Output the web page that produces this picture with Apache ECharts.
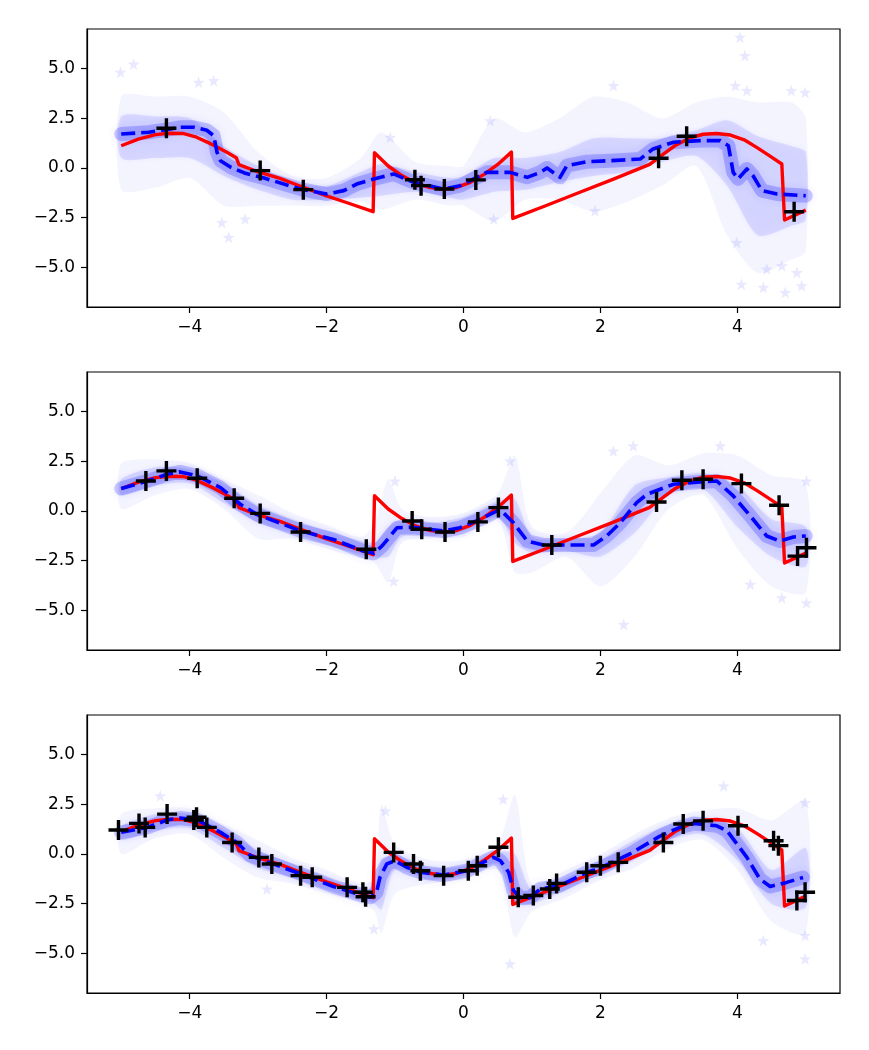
<!DOCTYPE html>
<html>
<head>
<meta charset="utf-8">
<script src="https://cdn.jsdelivr.net/npm/echarts@6/dist/echarts.min.js"></script>
<style>
  html, body { margin: 0; padding: 0; background: #fff; }
  #chart { width: 869px; height: 1050px; }
</style>
</head>
<body>
<div id="chart"></div>
<script>
"use strict";

// True function (red), shared by the three panels.
var trueX = [-5.0, -4.75, -4.5, -4.3, -4.1, -3.9, -3.65, -3.45, -3.32, -3.28, -3.0, -2.68, -2.38, -2.0, -1.7, -1.32,
  -1.30, -1.1, -0.9, -0.7, -0.5, -0.3, -0.1, 0.1, 0.3, 0.5, 0.7,
  0.72, 1.2, 1.7, 2.2, 2.72, 2.9, 3.1, 3.3, 3.5, 3.7, 3.9, 4.1, 4.3, 4.5, 4.65, 4.69, 5.0];
var trueY = [1.12, 1.45, 1.68, 1.75, 1.74, 1.55, 1.15, 0.78, 0.52, 0.17, -0.2, -0.52, -0.92, -1.4, -1.75, -2.2,
  0.77, 0.1, -0.38, -0.75, -0.97, -1.07, -0.98, -0.72, -0.32, 0.18, 0.8,
  -2.54, -1.9, -1.22, -0.55, 0.18, 0.65, 1.15, 1.5, 1.7, 1.74, 1.66, 1.42, 1.0, 0.55, 0.2, -2.62, -2.12];

// Predicted mean (blue dashed), one per panel.
var pred1X = [-5.0, -4.6, -4.3, -4.14, -3.94, -3.75, -3.65, -3.6, -3.55, -3.4, -3.2, -2.9, -2.38, -2.0, -1.75, -1.56,
  -1.31, -1.02, -0.73, -0.29, -0.05, 0.34, 0.68, 0.93, 1.12, 1.22, 1.41, 1.51, 1.8, 2.14, 2.58, 2.77, 3.07, 3.45,
  3.75, 3.87, 3.94, 4.01, 4.14, 4.23, 4.36, 4.58, 5.0];
var pred1Y = [1.71, 1.8, 1.95, 2.05, 2.05, 1.9, 1.63, 0.79, 0.37, 0.04, -0.25, -0.52, -1.06, -1.31, -1.14, -0.81,
  -0.55, -0.3, -0.72, -1.06, -0.89, -0.22, -0.22, -0.47, -0.22, 0.0, -0.47, 0.12, 0.32, 0.37, 0.45, 0.96, 1.3, 1.38,
  1.38, 1.12, -0.22, -0.55, -0.05, -0.39, -1.14, -1.31, -1.4];

var pred2X = [-5.0, -4.62, -4.33, -4.14, -3.89, -3.55, -3.26, -3.02, -2.38, -1.9, -1.46, -1.31, -1.19, -1.07, -0.97,
  -0.73, -0.29, -0.05, 0.24, 0.49, 0.58, 0.73, 0.93, 1.17, 1.9, 2.09, 2.29, 2.53, 2.68, 3.07, 3.45, 3.7, 3.94, 4.19,
  4.43, 4.62, 4.82, 5.0];
var pred2Y = [1.13, 1.51, 1.85, 1.97, 1.77, 1.18, 0.34, -0.17, -1.0, -1.43, -2.02, -2.13, -1.76, -1.26, -0.84,
  -0.82, -1.01, -0.84, -0.42, 0.0, -0.08, -0.59, -1.51, -1.71, -1.71, -1.26, -0.59, 0.42, 0.84, 1.35, 1.46, 1.51, 0.76,
  -0.25, -1.26, -1.51, -1.31, -1.26];

var pred3X = [-5.0, -4.62, -4.33, -4.14, -3.89, -3.55, -3.31, -3.11, -2.38, -1.9, -1.46, -1.36, -1.27, -1.22, -1.12,
  -1.0, -0.83, -0.63, -0.29, 0.05, 0.24, 0.44, 0.54, 0.66, 0.73, 0.83, 0.97, 1.12, 1.41, 1.8, 2.0, 2.43, 2.87, 3.16,
  3.36, 3.7, 3.85, 4.14, 4.33, 4.48, 4.72, 4.96];
var pred3Y = [1.09, 1.34, 1.71, 1.81, 1.71, 1.09, 0.58, -0.09, -1.0, -1.64, -2.1, -2.18, -1.93, -1.17, -0.5,
  -0.34, -0.67, -0.92, -1.06, -0.84, -0.5, -0.17, -0.34, -0.92, -1.84, -2.2, -2.2, -1.76, -1.59, -0.92, -0.7, 0.0,
  0.9, 1.34, 1.54, 1.42, 1.17, -0.17, -1.26, -1.64, -1.43, -1.18];

// Training points (black +).
var obs1X = [-4.34, -2.97, -2.34, -0.71, -0.62, -0.28, 0.18, 2.85, 3.26, 4.83];
var obs1Y = [2.0, -0.13, -1.09, -0.59, -0.89, -1.06, -0.6, 0.49, 1.6, -2.2];

var obs2X = [-4.64, -4.34, -3.89, -3.35, -2.97, -2.38, -1.42, -0.75, -0.61, -0.27, 0.21, 0.51, 1.29, 2.82, 3.19,
  3.5, 4.06, 4.61, 4.88, 5.01];
var obs2Y = [1.51, 2.02, 1.65, 0.64, -0.12, -1.06, -1.93, -0.5, -0.92, -1.06, -0.55, 0.17, -1.71, 0.45, 1.55,
  1.6, 1.38, 0.29, -2.27, -1.85];

var obs3X = [-5.04, -4.74, -4.65, -4.33, -3.94, -3.9, -3.75, -3.38, -2.99, -2.8, -2.38, -2.21, -1.7, -1.47, -1.43,
  -1.02, -0.73, -0.63, -0.29, 0.07, 0.2, 0.51, 0.8, 1.02, 1.26, 1.36, 1.8, 2.0, 2.26, 2.92, 3.21, 3.5, 4.01, 4.53,
  4.6, 4.87, 4.99];
var obs3Y = [1.21, 1.54, 1.34, 2.01, 1.71, 1.85, 1.34, 0.58, -0.17, -0.5, -1.09, -1.17, -1.68, -1.93, -2.15,
  0.08, -0.5, -0.84, -1.09, -0.84, -0.59, 0.34, -2.18, -2.09, -1.76, -1.48, -0.92, -0.59, -0.42, 0.58, 1.51, 1.67,
  1.42, 0.67, 0.42, -2.34, -1.93];

// Spread of the posterior samples (faint stars): outer and dense extents per x.
var band1X = [-5.0, -4.5, -4.0, -3.5, -3.0, -2.5, -2.0, -1.5, -1.2, -0.7, -0.2, 0.0, 0.45, 0.9, 1.4, 1.9, 2.4, 2.9,
  3.4, 3.85, 4.3, 4.8, 5.0];
var band1OutLo = [-1.1, -1.0, -0.5, -1.9, -1.9, -1.9, -1.9, -1.7, -2.1, -1.6, -1.9, -1.9, -2.7, -1.6, -1.6, -2.2,
  -1.7, -0.9, 0.1, -3.4, -5.3, -4.6, -4.2];
var band1OutHi = [3.6, 3.6, 3.6, 2.8, 0.8, -0.4, -0.5, 0.5, 1.8, 0.3, 0.1, 0.1, 2.5, 1.8, 2.5, 3.6, 3.3, 2.5, 3.3,
  3.6, 3.3, 3.3, 2.5];
var band1InLo = [0.5, 0.5, 0.5, -0.4, -1.1, -1.6, -1.6, -1.5, -1.4, -1.2, -1.5, -1.6, -1.2, -1.1, -0.7, -0.4, -0.2,
  0.3, 0.6, -0.9, -3.4, -2.9, -2.6];
var band1InHi = [2.6, 2.6, 2.5, 1.1, 0.1, -0.7, -0.9, -0.2, 0.2, -0.2, -0.5, -0.4, 0.5, 0.5, 0.8, 1.5, 1.5, 1.5,
  1.9, 2.4, 1.6, 1.1, 0.8];

var band2X = [-5.0, -4.5, -4.0, -3.5, -3.0, -2.5, -2.0, -1.5, -1.3, -1.1, -0.9, -0.5, 0.0, 0.5, 0.75, 1.0, 1.5, 2.0,
  2.5, 3.0, 3.5, 4.0, 4.5, 5.0];
var band2OutLo = [0.1, 0.8, 1.1, 0.1, -1.4, -1.4, -1.9, -2.4, -2.6, -3.6, -1.6, -1.4, -1.3, -0.4, -3.1, -3.1, -2.3,
  -3.8, -2.3, 0.1, 0.8, -1.9, -3.8, -4.1];
var band2OutHi = [2.4, 2.6, 2.4, 1.6, 0.8, -0.1, -0.7, -1.3, -0.6, 1.6, 0.1, -0.3, -0.1, 0.9, 2.8, -0.8, -1.1, 0.9,
  2.8, 2.3, 2.9, 2.8, 1.8, 1.4];
var band2InLo = [0.8, 1.3, 1.4, 0.4, -0.6, -1.1, -1.7, -2.2, -2.3, -2.3, -1.3, -1.3, -1.0, -0.3, -1.6, -2.1, -2.0,
  -2.3, -1.1, 0.8, 1.1, -0.8, -2.3, -2.8];
var band2InHi = [1.6, 2.2, 2.1, 1.4, 0.3, -0.4, -1.0, -1.5, -1.6, -0.8, -0.4, -0.6, -0.3, 0.5, 0.6, -1.3, -1.4,
  -1.1, 1.3, 1.7, 1.9, 1.3, -0.4, -0.8];

var band3X = [-5.0, -4.5, -4.0, -3.5, -3.0, -2.5, -2.0, -1.5, -1.3, -1.2, -1.0, -0.5, 0.0, 0.5, 0.75, 1.0, 1.5, 2.0,
  2.5, 3.0, 3.5, 4.0, 4.5, 5.0];
var band3OutLo = [0.0, 0.8, 1.0, -0.2, -1.2, -1.5, -2.0, -2.5, -2.9, -4.0, -2.0, -1.5, -1.3, -0.8, -4.2, -2.9, -2.2,
  -1.3, -0.7, 0.3, 0.7, -0.8, -3.4, -4.0];
var band3OutHi = [2.0, 2.3, 2.3, 1.5, 0.7, -0.2, -0.8, -1.5, -1.2, 2.5, 0.5, -0.3, -0.3, 0.5, 3.0, -1.5, -0.8, 0.0,
  1.0, 1.8, 2.2, 2.3, 1.7, 2.7];
var band3InLo = [0.7, 1.2, 1.3, 0.3, -0.7, -1.2, -1.8, -2.3, -2.5, -2.8, -0.8, -1.3, -1.1, -0.5, -2.5, -2.5, -1.8,
  -1.0, -0.2, 0.7, 1.0, -0.3, -2.5, -2.7];
var band3InHi = [1.4, 2.0, 2.0, 1.2, 0.2, -0.5, -1.2, -1.8, -1.6, -0.4, 0.0, -0.7, -0.6, 0.1, 0.0, -1.8, -1.2, -0.3,
  0.7, 1.5, 1.8, 1.3, -0.8, 0.3];

// Stray sample stars that sit outside the main cloud.
var stars1X = [-4.82, -5.01, -3.87, -3.65, -3.53, -3.43, -3.19, -1.07, 4.04, 4.11, 2.19, 3.97, 4.14, 4.79, 4.99,
  0.39, 0.44, 1.92, 4.06, 4.38, 4.7, 4.94, 3.99, 4.43, 4.65, 4.87];
var stars1Y = [5.24, 4.82, 4.32, 4.4, -2.74, -3.49, -2.57, 1.55, 6.59, 5.66, 4.15, 4.15, 3.9, 3.9, 3.81,
  2.38, -2.57, -2.15, -5.85, -6.01, -6.27, -5.93, -3.75, -5.09, -4.92, -5.26];
var stars2X = [0.68, 2.19, 2.48, 2.34, 4.19, 4.65, 5.01, 3.75, 5.01, -1.0, -1.02];
var stars2Y = [2.52, 3.02, 3.28, -5.71, -3.69, -4.37, -4.62, 3.28, 1.51, 1.51, -3.53];
var stars3X = [3.8, 4.99, 0.68, 4.38, 4.99, 4.99, 0.58, -4.43, -2.87, -1.31, -1.14];
var stars3Y = [3.43, 2.59, -5.53, -4.36, -5.28, -4.1, 2.76, 2.93, -1.76, -3.77, 2.18];

var xTicks = [-4, -2, 0, 2, 4];
var yTicks = [-5, -2.5, 0, 2.5, 5];

var STAR = 'path://M0,-10L2.35,-3.24L9.51,-3.09L3.8,1.24L5.88,8.09L0,4L-5.88,8.09L-3.8,1.24L-9.51,-3.09L-2.35,-3.24Z';
var PLUS = 'path://M-1.7,-10H1.7V-1.7H10V1.7H1.7V10H-1.7V1.7H-10V-1.7H-1.7Z';
var MINUS = '\u2212';

function zip(xs, ys) {
  return xs.map(function (x, k) { return [x, ys[k]]; });
}

// One closed polygon between lo and hi, placed with the axis scales.
function bandSeries(i, xs, lo, hi, fill, blur) {
  return {
    type: 'custom',
    xAxisIndex: i,
    yAxisIndex: i,
    silent: true,
    data: xs.map(function (x, k) { return [x, lo[k], hi[k]]; }),
    encode: { x: 0, y: [1, 2] },
    renderItem: function (params, api) {
      if (params.dataIndex !== 0) return null;
      var pts = [];
      for (var k = 0; k < xs.length; k++) pts.push(api.coord([xs[k], hi[k]]));
      for (var m = xs.length - 1; m >= 0; m--) pts.push(api.coord([xs[m], lo[m]]));
      return {
        type: 'polygon',
        shape: { points: pts, smooth: 0.25 },
        style: { fill: fill, shadowBlur: blur, shadowColor: 'rgba(0,0,255,0.5)' }
      };
    },
    z: 1
  };
}

var panels = [
  { pX: pred1X, pY: pred1Y, oX: obs1X, oY: obs1Y, b: [band1X, band1OutLo, band1OutHi, band1InLo, band1InHi], sX: stars1X, sY: stars1Y },
  { pX: pred2X, pY: pred2Y, oX: obs2X, oY: obs2Y, b: [band2X, band2OutLo, band2OutHi, band2InLo, band2InHi], sX: stars2X, sY: stars2Y },
  { pX: pred3X, pY: pred3Y, oX: obs3X, oY: obs3Y, b: [band3X, band3OutLo, band3OutHi, band3InLo, band3InHi], sX: stars3X, sY: stars3Y }
];
var tops = [29, 372, 715];

var grid = [], xAxis = [], yAxis = [], series = [];

panels.forEach(function (p, i) {
  grid.push({
    left: 87, width: 753, top: tops[i], height: 278,
    show: true, borderColor: '#000', borderWidth: 1.2, backgroundColor: '#fff'
  });
  xAxis.push({
    type: 'value', gridIndex: i, min: -5.5, max: 5.5,
    axisLine: { show: true, onZero: false, lineStyle: { color: '#000', width: 1.2 } },
    axisTick: { show: true, length: 6, lineStyle: { color: '#000', width: 1.2 }, customValues: xTicks },
    axisLabel: {
      customValues: xTicks, color: '#000', fontSize: 17, fontFamily: 'DejaVu Sans', margin: 12,
      formatter: function (v) { return String(v).replace('-', MINUS); }
    },
    splitLine: { show: false }
  });
  yAxis.push({
    type: 'value', gridIndex: i, min: -7, max: 7,
    axisLine: { show: true, onZero: false, lineStyle: { color: '#000', width: 1.2 } },
    axisTick: { show: true, length: 6, lineStyle: { color: '#000', width: 1.2 }, customValues: yTicks },
    axisLabel: {
      customValues: yTicks, color: '#000', fontSize: 17, fontFamily: 'DejaVu Sans', margin: 12,
      formatter: function (v) { return v.toFixed(1).replace('-', MINUS); }
    },
    splitLine: { show: false }
  });

  series.push(bandSeries(i, p.b[0], p.b[1], p.b[2], 'rgba(0,0,255,0.045)', 0));
  series.push(bandSeries(i, p.b[0], p.b[3], p.b[4], 'rgba(0,0,255,0.09)', 5));
  series.push({
    type: 'scatter', xAxisIndex: i, yAxisIndex: i, silent: true,
    data: zip(p.sX, p.sY), symbol: STAR, symbolSize: 12,
    itemStyle: { color: 'rgba(0,0,255,0.09)', opacity: 1 }, z: 2
  });
  // dense glow of samples right around the predicted mean
  series.push({
    type: 'line', xAxisIndex: i, yAxisIndex: i, silent: true,
    data: zip(p.pX, p.pY), showSymbol: false, symbol: 'none',
    lineStyle: { color: 'rgba(0,0,255,0.2)', width: 14, join: 'round', cap: 'round',
      shadowBlur: 8, shadowColor: 'rgba(0,0,255,0.4)' }, z: 2
  });
  series.push({
    type: 'line', xAxisIndex: i, yAxisIndex: i, silent: true,
    data: zip(trueX, trueY), showSymbol: false, symbol: 'none',
    lineStyle: { color: '#ff0000', width: 3.4, join: 'round' }, z: 3
  });
  series.push({
    type: 'line', xAxisIndex: i, yAxisIndex: i, silent: true,
    data: zip(p.pX, p.pY), showSymbol: false, symbol: 'none',
    lineStyle: { color: '#0000ff', width: 3.6, type: [14, 6], join: 'round' }, z: 4
  });
  series.push({
    type: 'scatter', xAxisIndex: i, yAxisIndex: i, silent: true,
    data: zip(p.oX, p.oY), symbol: PLUS, symbolSize: 20,
    itemStyle: { color: '#000', opacity: 1 }, z: 5
  });
});

var chart = echarts.init(document.getElementById('chart'), null, { renderer: 'canvas' });
chart.setOption({
  animation: false,
  backgroundColor: '#fff',
  textStyle: { fontFamily: 'DejaVu Sans' },
  grid: grid,
  xAxis: xAxis,
  yAxis: yAxis,
  series: series
});
</script>
</body>
</html>
